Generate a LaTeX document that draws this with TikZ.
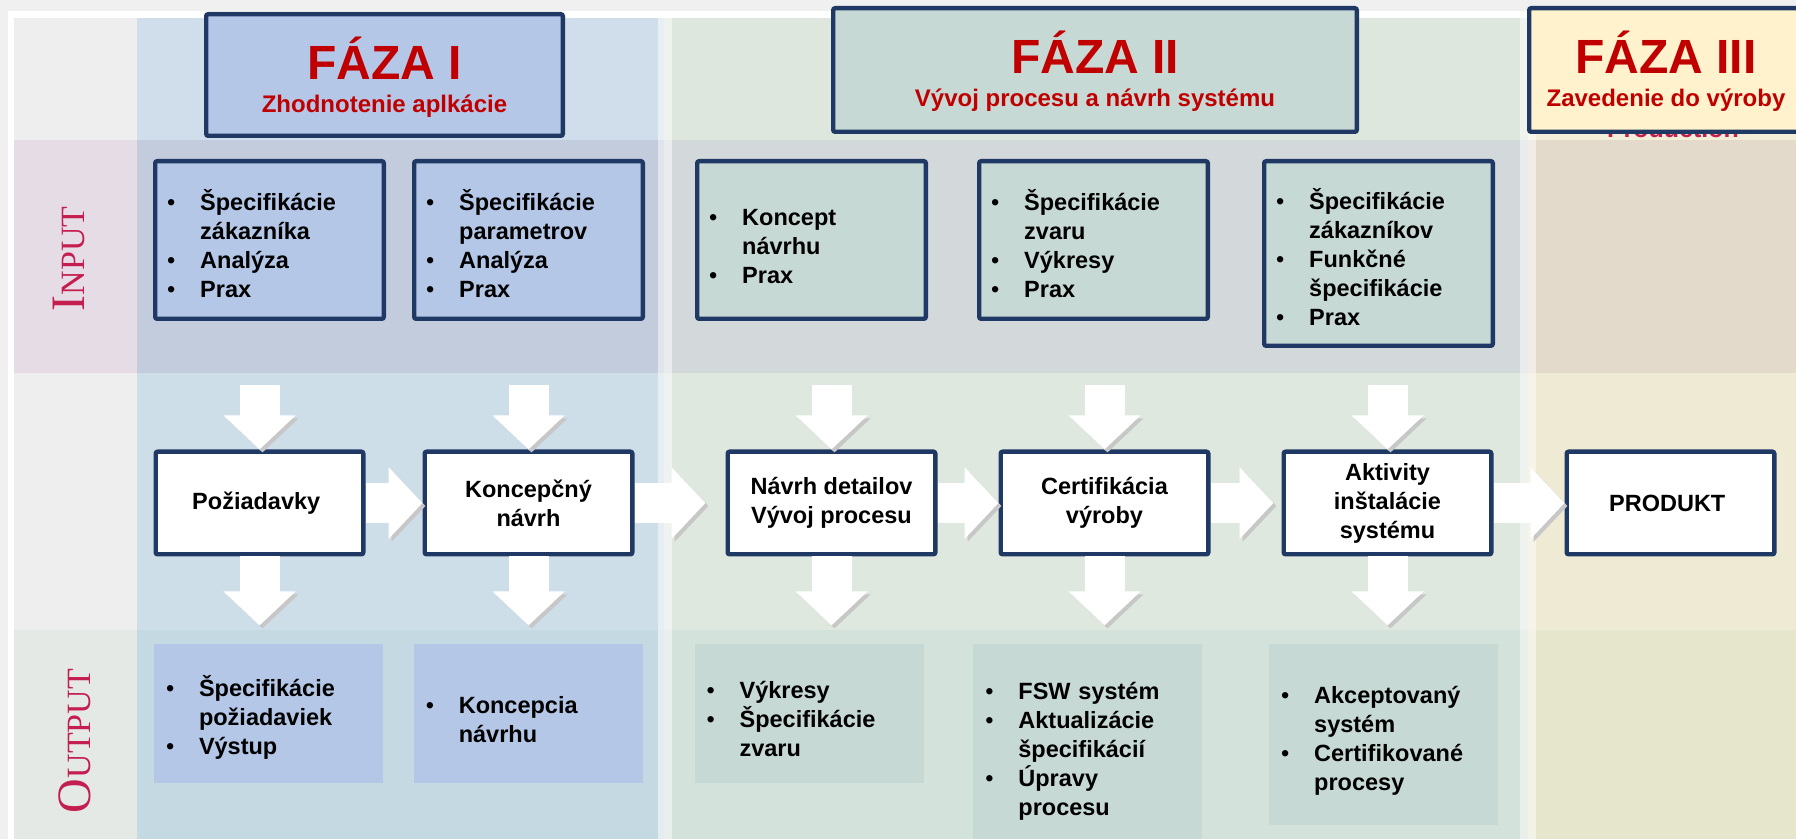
\documentclass[tikz,border=0pt]{standalone}
\usepackage{fontspec}
\setmainfont{Liberation Sans}
\newfontfamily\serifcaps{Liberation Serif}
\usepackage{xcolor}
\usepackage{tikz}
\usetikzlibrary{
  arrows.meta,
  positioning
}
\definecolor{FrameGray}{HTML}{F0F0F0}
\definecolor{NavyLine}{HTML}{1F3864}
\definecolor{PhaseRed}{HTML}{C00000}
\definecolor{RowLabel}{HTML}{C41E50}
\definecolor{BoxBlue}{HTML}{B4C7E7}
\definecolor{BoxTeal}{HTML}{C7D9D5}
\definecolor{BoxCream}{HTML}{FFF2CC}
\definecolor{LeftHead}{HTML}{EEEEEE}
\definecolor{LeftIn}{HTML}{E6DCE5}
\definecolor{LeftMid}{HTML}{EEEEEE}
\definecolor{LeftOut}{HTML}{E4E9E6}
\definecolor{BlueHead}{HTML}{CFDEEA}
\definecolor{BlueIn}{HTML}{C2CCDC}
\definecolor{BlueMid}{HTML}{CEDEE9}
\definecolor{BlueOut}{HTML}{C5D9E3}
\definecolor{GreenHead}{HTML}{DEE7DE}
\definecolor{GreenIn}{HTML}{D3D8DA}
\definecolor{GreenMid}{HTML}{DFE8DF}
\definecolor{GreenOut}{HTML}{D3E2DA}
\definecolor{SandHead}{HTML}{F3EED8}
\definecolor{SandIn}{HTML}{E3DACB}
\definecolor{SandMid}{HTML}{EEEAD3}
\definecolor{SandOut}{HTML}{E5E6CC}
\newcommand{\bodyfont}{\fontsize{11.75}{14.5}\selectfont\bfseries}
\newcommand{\bitem}[1]{%
  \par\hangindent=16.5pt\hangafter=1\noindent
  \makebox[16.5pt][l]{\mdseries•}#1\par}
\tikzset{
  phasebox/.style={
    draw=NavyLine,
    line width=2.2pt,
    rounded corners=1pt
  },
  phasetitle/.style={
    text=PhaseRed,
    font=\fontsize{24}{28}\selectfont\bfseries,
    anchor=base,
    inner sep=0pt
  },
  phasesub/.style={
    text=PhaseRed,
    font=\fontsize{12}{14}\selectfont\bfseries,
    anchor=base,
    inner sep=0pt
  },
  inbox/.style={
    draw=NavyLine,
    line width=2.2pt,
    rounded corners=1pt,
    minimum width=114.3pt,
    minimum height=78.8pt,
    text width=102.3pt,
    inner xsep=6pt,
    align=left,
    font=\bodyfont
  },
  stepbox/.style={
    draw=NavyLine,
    line width=2.2pt,
    rounded corners=1pt,
    fill=white,
    minimum width=103.8pt,
    minimum height=51.3pt,
    align=center,
    font=\bodyfont
  },
  outbox/.style={
    minimum width=114.5pt,
    minimum height=69.5pt,
    text width=102.5pt,
    inner xsep=6pt,
    align=left,
    font=\bodyfont
  },
  blockarrow/.style={
    draw=white,
    line width=20pt,
    -{Triangle[length=17pt, width=35pt]},
    preaction={
      draw=black!22,
      transform canvas={shift={(1.5pt,-1.5pt)}}
    }
  },
  rowlabel/.style={
    rotate=90,
    text=RowLabel,
    font=\serifcaps\fontsize{17}{17}\selectfont
  }
}

\begin{document}
\begin{tikzpicture}[x=0.5pt, y=-0.5pt]

  \useasboundingbox (0,0) rectangle (1796,839);

  % backdrop and frame
  \fill[FrameGray] (0,0) rectangle (1796,839);
  \fill[white] (8,11) rectangle (1796,839);

  % label column
  \fill[LeftHead] (14,18) rectangle (137,140);
  \fill[LeftIn] (14,140) rectangle (137,373);
  \fill[LeftMid] (14,373) rectangle (137,630);
  \fill[LeftOut] (14,630) rectangle (137,839);

  % phase columns
  \fill[BlueHead] (137,18) rectangle (664,140);
  \fill[BlueIn] (137,140) rectangle (664,373);
  \fill[BlueMid] (137,373) rectangle (664,630);
  \fill[BlueOut] (137,630) rectangle (664,839);

  \fill[GreenHead] (664,18) rectangle (1528,140);
  \fill[GreenIn] (664,140) rectangle (1528,373);
  \fill[GreenMid] (664,373) rectangle (1528,630);
  \fill[GreenOut] (664,630) rectangle (1528,839);

  \fill[SandHead] (1528,18) rectangle (1796,140);
  \fill[SandIn] (1528,140) rectangle (1796,373);
  \fill[SandMid] (1528,373) rectangle (1796,630);
  \fill[SandOut] (1528,630) rectangle (1796,839);

  \fill[white, opacity=0.5] (658,18) rectangle (672,839);
  \fill[white, opacity=0.5] (1520,18) rectangle (1536,839);

  % row labels
  \node[rowlabel] (inputlabel) at (69,259) {
    {\fontsize{24}{24}\selectfont I}NPUT
  };

  \node[rowlabel] (outputlabel) at (75,741) {
    {\fontsize{24}{24}\selectfont O}UTPUT
  };

  % phase headers
  \node[
    phasebox,
    fill=BoxBlue,
    minimum width=178.3pt,
    minimum height=60.8pt
  ] (faza1) at (384.5,75) {};

  \node[phasetitle] (faza1title) at ([yshift=-34pt]faza1.north) {
    FÁZA I
  };

  \node[phasesub] (faza1sub) at ([yshift=-50.5pt]faza1.north) {
    Zhodnotenie aplkácie
  };

  \node[
    phasebox,
    fill=BoxTeal,
    minimum width=261.8pt,
    minimum height=61.8pt
  ] (faza2) at (1095,70) {};

  \node[phasetitle] (faza2title) at ([yshift=-34pt]faza2.north) {
    FÁZA II
  };

  \node[phasesub] (faza2sub) at ([yshift=-50.5pt]faza2.north) {
    Vývoj procesu a návrh systému
  };

  \node[
    phasesub,
    text=RowLabel,
    font=\fontsize{12.5}{14}\selectfont\bfseries
  ] (production) at (1673,138) {
    Production
  };

  \node[
    phasebox,
    fill=BoxCream,
    minimum width=136.8pt,
    minimum height=61.8pt
  ] (faza3) at (1666,70) {};

  \node[phasetitle] (faza3title) at ([yshift=-34pt]faza3.north) {
    FÁZA III
  };

  \node[phasesub] (faza3sub) at ([yshift=-50.5pt]faza3.north) {
    Zavedenie do výroby
  };

  % inputs
  \node[
    inbox,
    fill=BoxBlue
  ] (in1) at (269.5,240) {
    \bitem{Špecifikácie\newline zákazníka}
    \bitem{Analýza}
    \bitem{Prax}
  };

  \node[
    inbox,
    fill=BoxBlue,
    right=13pt of in1
  ] (in2) {
    \bitem{Špecifikácie\newline parametrov}
    \bitem{Analýza}
    \bitem{Prax}
  };

  \node[
    inbox,
    fill=BoxTeal,
    right=25pt of in2
  ] (in3) {
    \bitem{Koncept\newline návrhu}
    \bitem{Prax}
  };

  \node[
    inbox,
    fill=BoxTeal,
    right=24.5pt of in3
  ] (in4) {
    \bitem{Špecifikácie\newline zvaru}
    \bitem{Výkresy}
    \bitem{Prax}
  };

  \node[
    inbox,
    fill=BoxTeal,
    minimum height=92.3pt,
    right=26pt of in4.north east,
    anchor=north west
  ] (in5) {
    \bitem{Špecifikácie\newline zákazníkov}
    \bitem{Funkčné\newline špecifikácie}
    \bitem{Prax}
  };

  % process steps
  \node[stepbox] (p1) at (259.5,503) {
    Požiadavky
  };

  \node[stepbox, right=28.5pt of p1] (p2) {
    Koncepčný\\návrh
  };

  \node[stepbox, right=45.5pt of p2] (p3) {
    Návrh detailov\\Vývoj procesu
  };

  \node[stepbox, right=30.5pt of p3] (p4) {
    Certifikácia\\výroby
  };

  \node[stepbox, right=35.5pt of p4] (p5) {
    Aktivity\\inštalácie\\systému
  };

  \node[stepbox, right=35.5pt of p5] (p6) {
    PRODUKT
  };

  % outputs
  \node[
    outbox,
    fill=BoxBlue
  ] (out1) at (268.5,713.5) {
    \bitem{Špecifikácie\newline požiadaviek}
    \bitem{Výstup}
  };

  \node[
    outbox,
    fill=BoxBlue,
    right=15pt of out1
  ] (out2) {
    \bitem{Koncepcia\newline návrhu}
  };

  \node[
    outbox,
    fill=BoxTeal,
    right=25.5pt of out2
  ] (out3) {
    \bitem{Výkresy}
    \bitem{Špecifikácie\newline zvaru}
  };

  \node[
    outbox,
    fill=BoxTeal,
    minimum height=101.5pt,
    right=24.5pt of out3.north east,
    anchor=north west
  ] (out4) {
    \bitem{FSW systém}
    \bitem{Aktualizácie\newline špecifikácií}
    \bitem{Úpravy\newline procesu}
  };

  \node[
    outbox,
    fill=BoxTeal,
    minimum height=90.5pt,
    right=33pt of out4.north east,
    anchor=north west
  ] (out5) {
    \bitem{Akceptovaný\newline systém}
    \bitem{Certifikované\newline procesy}
  };

  % arrow ends
  \coordinate[above=32pt of p1] (p1top);
  \coordinate[above=32pt of p2] (p2top);
  \coordinate[above=32pt of p3] (p3top);
  \coordinate[above=32pt of p4] (p4top);
  \coordinate[above=32pt of p5] (p5top);
  \coordinate[below=34.5pt of p1] (p1bot);
  \coordinate[below=34.5pt of p2] (p2bot);
  \coordinate[below=34.5pt of p3] (p3bot);
  \coordinate[below=34.5pt of p4] (p4bot);
  \coordinate[below=34.5pt of p5] (p5bot);

  \draw[blockarrow] (p1top) -- (p1);
  \draw[blockarrow] (p2top) -- (p2);
  \draw[blockarrow] (p3top) -- (p3);
  \draw[blockarrow] (p4top) -- (p4);
  \draw[blockarrow] (p5top) -- (p5);

  \draw[blockarrow] (p1) -- (p1bot);
  \draw[blockarrow] (p2) -- (p2bot);
  \draw[blockarrow] (p3) -- (p3bot);
  \draw[blockarrow] (p4) -- (p4bot);
  \draw[blockarrow] (p5) -- (p5bot);

  \draw[blockarrow] (p1) -- (p2);
  \draw[blockarrow, shorten >=10pt] (p2) -- (p3);
  \draw[blockarrow] (p3) -- (p4);
  \draw[blockarrow, shorten >=4pt] (p4) -- (p5);
  \draw[blockarrow] (p5) -- (p6);

\end{tikzpicture}
\end{document}
